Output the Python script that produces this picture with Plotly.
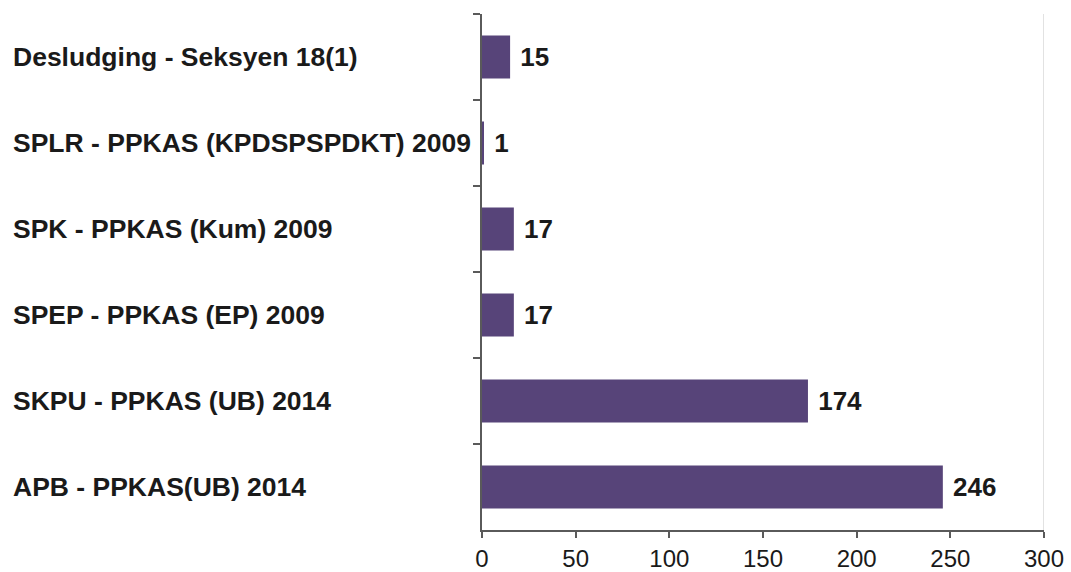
import plotly.graph_objects as go

categories = [
    "Desludging - Seksyen 18(1)",
    "SPLR - PPKAS (KPDSPSPDKT) 2009",
    "SPK - PPKAS (Kum) 2009",
    "SPEP - PPKAS (EP) 2009",
    "SKPU - PPKAS (UB) 2014",
    "APB - PPKAS(UB) 2014",
]
values = [15, 1, 17, 17, 174, 246]
x_ticks = [0, 50, 100, 150, 200, 250, 300]

BAR = "#574479"
AXIS = "#5a5a5a"
FONT = "Liberation Sans, Arial, sans-serif"

fig = go.Figure()

fig.add_trace(go.Bar(
    y=categories, x=values, orientation="h",
    marker=dict(color=BAR, line=dict(width=0)),
    text=[f" {v}" for v in values], textposition="outside",
    textfont=dict(family=FONT, size=26, color="#1a1a1a", weight="bold"),
    cliponaxis=False, width=0.5, hoverinfo="skip",
))

# light vertical line at the end of the value axis
fig.add_shape(type="line", xref="x", yref="paper", x0=300, x1=300, y0=0, y1=1,
              line=dict(color="#d9d9d9", width=1.5), layer="below")

# category labels, left-aligned at the far left
for c in categories:
    fig.add_annotation(x=0, xref="paper", xshift=-471, y=c, yref="y",
                       text=f"<b>{c}</b>", showarrow=False, xanchor="left",
                       font=dict(family=FONT, size=26.5, color="#1a1a1a"))

fig.update_layout(
    width=1071, height=572,
    paper_bgcolor="white", plot_bgcolor="white",
    margin=dict(l=482, r=27, t=14, b=42),
    showlegend=False,
    xaxis=dict(range=[0, 300], tickvals=x_ticks, showgrid=False, zeroline=False,
               automargin=False,
               showline=True, linecolor=AXIS, linewidth=2,
               ticks="outside", ticklen=6, tickwidth=2, tickcolor=AXIS,
               tickfont=dict(family=FONT, size=24, color="#1a1a1a")),
    yaxis=dict(autorange="reversed", showgrid=False, zeroline=False,
               automargin=False,
               showline=True, linecolor=AXIS, linewidth=2,
               ticks="outside", tickson="boundaries", ticklen=7, tickwidth=2,
               tickcolor=AXIS, showticklabels=False),
)

# drop the browser's default body margin so the figure fills the window
fig.write_html("out.html", config={"displayModeBar": False},
               post_script="document.body.style.margin = '0';")
